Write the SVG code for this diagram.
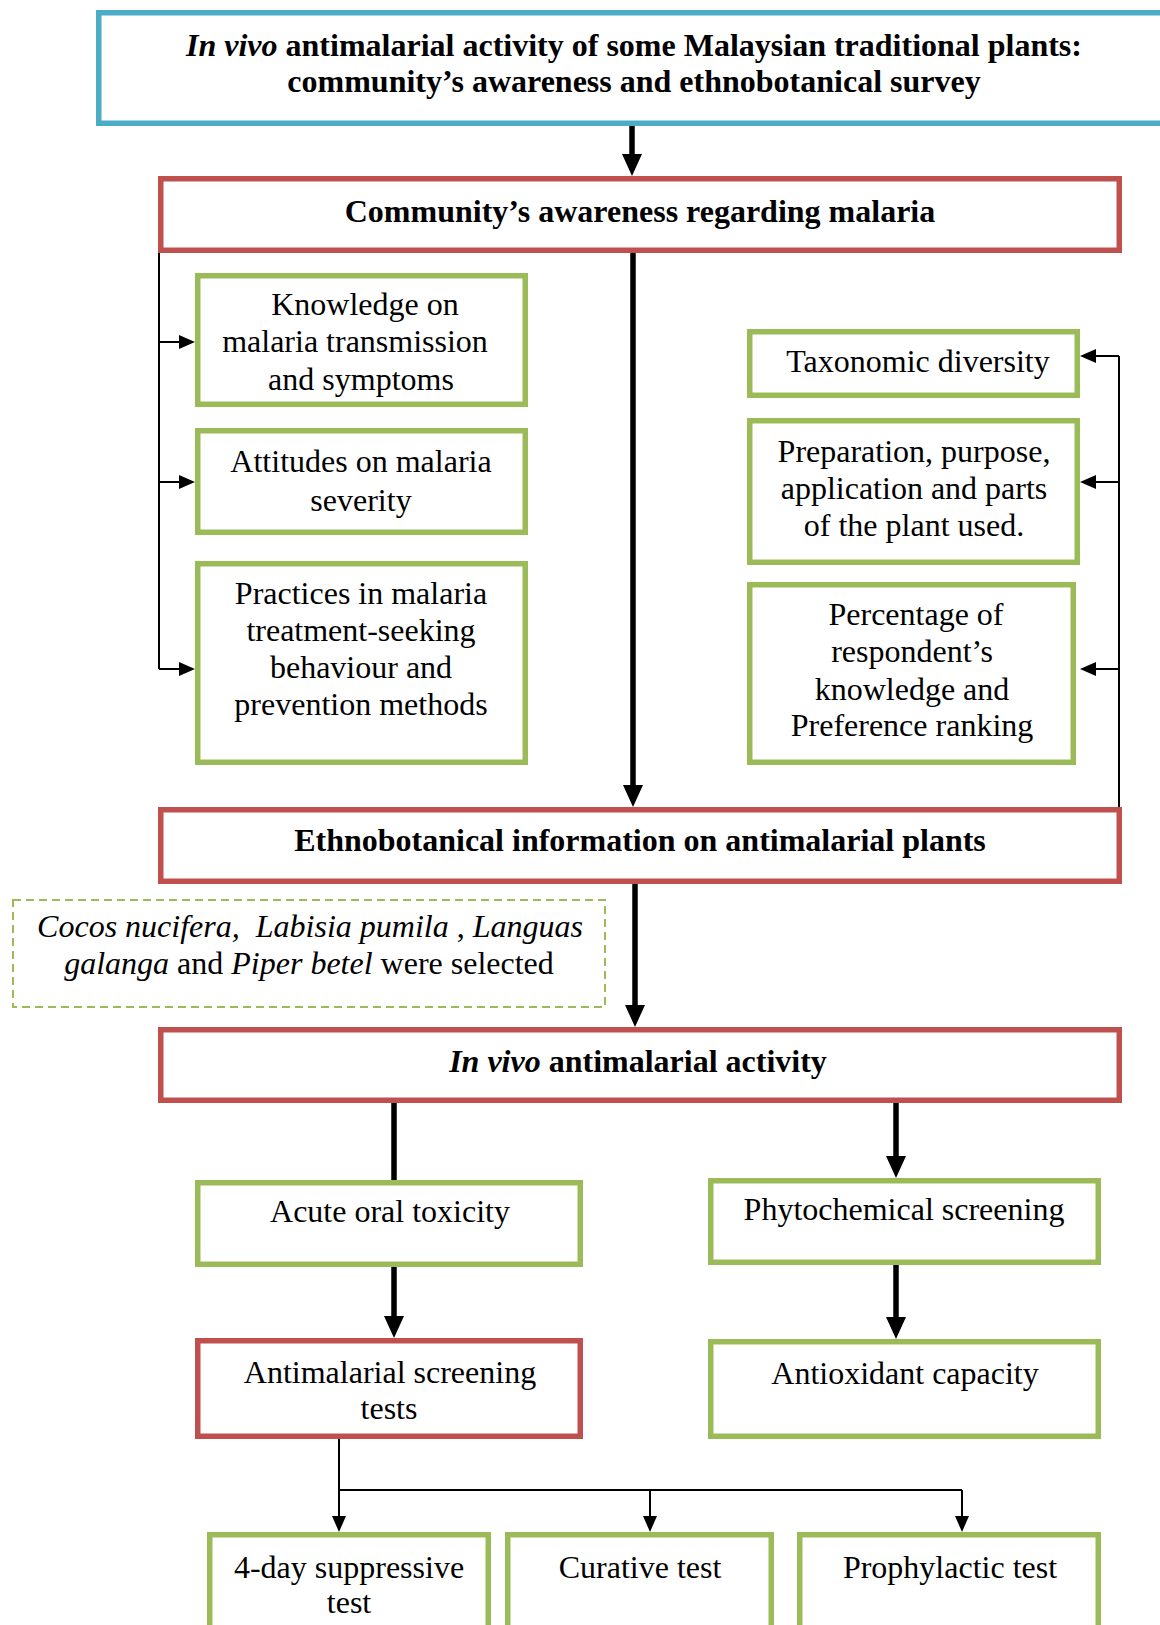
<svg xmlns="http://www.w3.org/2000/svg" width="1160" height="1625" viewBox="0 0 1160 1625">
<style>
.t{font-family:"Liberation Serif","Times New Roman",serif;font-size:32px;fill:#000;text-anchor:middle}
.b{font-weight:bold}
.i{font-style:italic}
.blue{fill:#fff;stroke:#4bacc6;stroke-width:5.5}
.red{fill:#fff;stroke:#c0504d;stroke-width:5.5}
.green{fill:#fff;stroke:#9bbb59;stroke-width:5.5}
.dash{fill:#fff;stroke:#9bbb59;stroke-width:2;stroke-dasharray:8 5}
.thick{fill:none;stroke:#000;stroke-width:5.5}
.thin{fill:none;stroke:#000;stroke-width:2}
</style>
<defs>
<marker id="ah" markerUnits="userSpaceOnUse" viewBox="0 -10 22 20" markerWidth="22" markerHeight="20" refX="0" refY="0" orient="auto" overflow="visible">
<path d="M0,-10 L22,0 L0,10 z" fill="#000"/>
</marker>
<marker id="as" markerUnits="userSpaceOnUse" viewBox="0 -7 16 14" markerWidth="16" markerHeight="14" refX="0" refY="0" orient="auto" overflow="visible">
<path d="M0,-7 L16,0 L0,7 z" fill="#000"/>
</marker>
</defs>
<rect width="1160" height="1625" fill="#fff"/>

<g id="connectors">
<path class="thick" d="M632,126 V154" marker-end="url(#ah)"/>
<path class="thick" d="M633,253 V785" marker-end="url(#ah)"/>
<path class="thick" d="M635,884 V1005" marker-end="url(#ah)"/>
<path class="thick" d="M394,1103 V1180"/>
<path class="thick" d="M896,1103 V1156" marker-end="url(#ah)"/>
<path class="thick" d="M394,1267 V1316" marker-end="url(#ah)"/>
<path class="thick" d="M896,1265 V1317" marker-end="url(#ah)"/>
<path class="thin" d="M159,253 V669"/>
<path class="thin" d="M159,342 H179" marker-end="url(#as)"/>
<path class="thin" d="M159,482 H179" marker-end="url(#as)"/>
<path class="thin" d="M159,669 H179" marker-end="url(#as)"/>
<path class="thin" d="M1119,356 V824"/>
<path class="thin" d="M1119,356 H1096" marker-end="url(#as)"/>
<path class="thin" d="M1119,482 H1096" marker-end="url(#as)"/>
<path class="thin" d="M1119,669 H1096" marker-end="url(#as)"/>
<path class="thin" d="M339,1439 V1516" marker-end="url(#as)"/>
<path class="thin" d="M339,1490 H962"/>
<path class="thin" d="M650,1490 V1516" marker-end="url(#as)"/>
<path class="thin" d="M962,1490 V1516" marker-end="url(#as)"/>
</g>

<g id="n-title">
<rect class="blue" x="98.75" y="12.75" width="1080" height="110.5"/>
<text class="t b" x="634" y="56"><tspan class="i">In vivo</tspan> antimalarial activity of some Malaysian traditional plants:</text>
<text class="t b" x="634" y="92">community’s awareness and ethnobotanical survey</text>
</g>

<g id="n-community">
<rect class="red" x="160.75" y="178.75" width="958.5" height="71.5"/>
<text class="t b" x="640" y="222">Community’s awareness regarding malaria</text>
</g>

<g id="n-knowledge">
<rect class="green" x="197.75" y="275.75" width="327.5" height="128.5"/>
<text class="t" x="365" y="315">Knowledge on</text>
<text class="t" x="355" y="352">malaria transmission</text>
<text class="t" x="361" y="390">and symptoms</text>
</g>

<g id="n-attitudes">
<rect class="green" x="197.75" y="430.75" width="327.5" height="101.5"/>
<text class="t" x="361" y="472">Attitudes on malaria</text>
<text class="t" x="361" y="511">severity</text>
</g>

<g id="n-practices">
<rect class="green" x="197.75" y="563.75" width="327.5" height="198.5"/>
<text class="t" x="361" y="604">Practices in malaria</text>
<text class="t" x="361" y="641">treatment-seeking</text>
<text class="t" x="361" y="678">behaviour and</text>
<text class="t" x="361" y="715">prevention methods</text>
</g>

<g id="n-taxonomic">
<rect class="green" x="749.75" y="331.75" width="327.5" height="63.5"/>
<text class="t" x="918" y="372">Taxonomic diversity</text>
</g>

<g id="n-preparation">
<rect class="green" x="749.75" y="420.75" width="327.5" height="141.5"/>
<text class="t" x="914" y="462">Preparation, purpose,</text>
<text class="t" x="914" y="499">application and parts</text>
<text class="t" x="914" y="536">of the plant used.</text>
</g>

<g id="n-percentage">
<rect class="green" x="749.75" y="584.75" width="323.5" height="177.5"/>
<text class="t" x="916" y="625">Percentage of</text>
<text class="t" x="912" y="662">respondent’s</text>
<text class="t" x="912" y="700">knowledge and</text>
<text class="t" x="912" y="736">Preference ranking</text>
</g>

<g id="n-ethno">
<rect class="red" x="160.75" y="809.75" width="958.5" height="71.5"/>
<text class="t b" x="640" y="851">Ethnobotanical information on antimalarial plants</text>
</g>

<g id="n-selected">
<rect class="dash" x="13" y="900" width="592" height="107"/>
<text class="t" x="310" y="937" xml:space="preserve"><tspan class="i">Cocos nucifera,  Labisia pumila</tspan> , <tspan class="i">Languas</tspan></text>
<text class="t" x="309" y="974"><tspan class="i">galanga</tspan> and <tspan class="i">Piper betel</tspan> were selected</text>
</g>

<g id="n-invivo">
<rect class="red" x="160.75" y="1029.75" width="958.5" height="70.5"/>
<text class="t b" x="638" y="1072"><tspan class="i">In vivo</tspan> antimalarial activity</text>
</g>

<g id="n-acute">
<rect class="green" x="197.75" y="1182.75" width="382.5" height="81.5"/>
<text class="t" x="390" y="1222">Acute oral toxicity</text>
</g>

<g id="n-phyto">
<rect class="green" x="710.75" y="1180.75" width="387.5" height="81.5"/>
<text class="t" x="904" y="1220">Phytochemical screening</text>
</g>

<g id="n-antimalarial">
<rect class="red" x="197.75" y="1340.75" width="382.5" height="95.5"/>
<text class="t" x="390" y="1383">Antimalarial screening</text>
<text class="t" x="389" y="1419">tests</text>
</g>

<g id="n-antioxidant">
<rect class="green" x="710.75" y="1341.75" width="387.5" height="94.5"/>
<text class="t" x="905" y="1384">Antioxidant capacity</text>
</g>

<g id="n-4day">
<rect class="green" x="209.75" y="1534.75" width="278.5" height="110"/>
<text class="t" x="349" y="1578">4-day suppressive</text>
<text class="t" x="349" y="1613">test</text>
</g>

<g id="n-curative">
<rect class="green" x="507.75" y="1534.75" width="263.5" height="110"/>
<text class="t" x="640" y="1578">Curative test</text>
</g>

<g id="n-prophylactic">
<rect class="green" x="799.75" y="1534.75" width="298.5" height="110"/>
<text class="t" x="950" y="1578">Prophylactic test</text>
</g>
</svg>
